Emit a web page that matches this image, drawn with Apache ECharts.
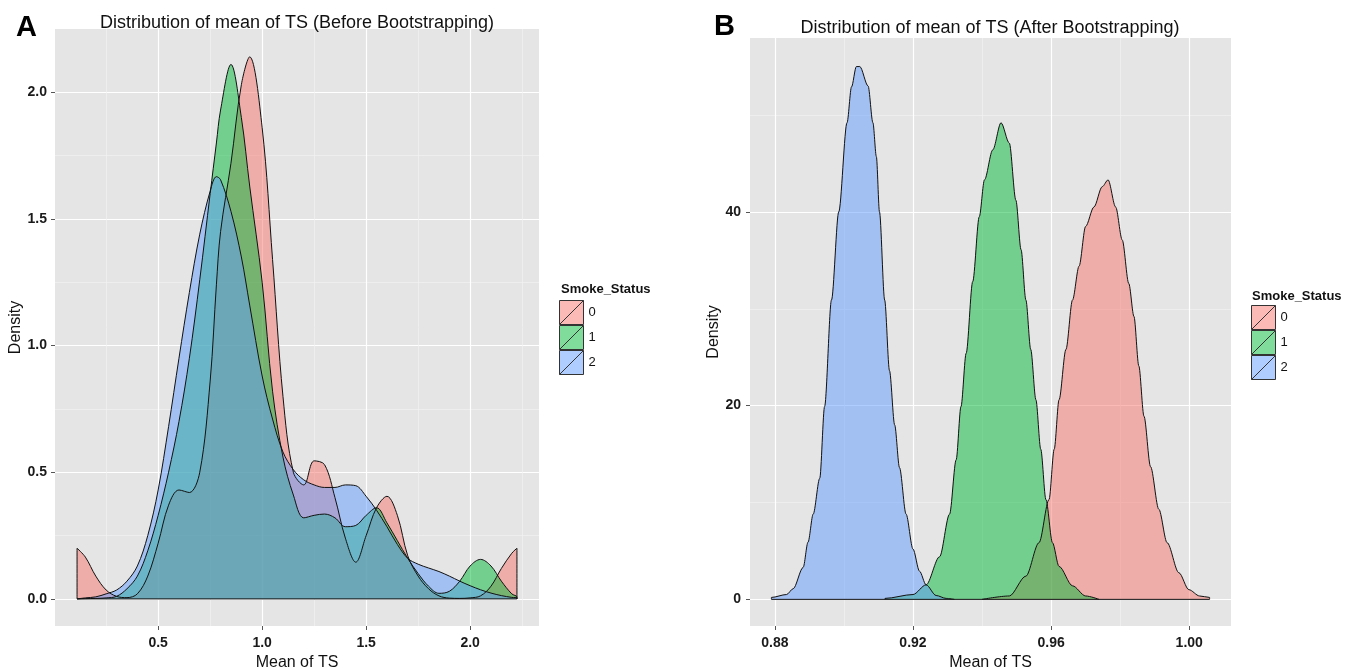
<!DOCTYPE html>
<html>
<head>
<meta charset="utf-8">
<script src="https://cdn.jsdelivr.net/npm/echarts@6/dist/echarts.min.js"></script>
<style>
  html, body { margin: 0; padding: 0; background: #fff; }
  #chart { width: 1356px; height: 670px; }
</style>
</head>
<body>
<div id="chart"></div>
<script>
// Smoke_Status groups
const groups = ['0', '1', '2']

// Panel A: density of mean TS before bootstrapping (shared x grid)
const aX = [0.11, 0.11, 0.15, 0.2, 0.25, 0.3, 0.35, 0.4, 0.45, 0.5, 0.55, 0.6, 0.65, 0.7, 0.75, 0.78, 0.8,
  0.85, 0.9, 0.94, 1.0, 1.05, 1.1, 1.15, 1.2, 1.25, 1.3, 1.35, 1.4, 1.45, 1.5, 1.55, 1.6, 1.65, 1.7, 1.75,
  1.8, 1.85, 1.9, 1.95, 2.0, 2.05, 2.1, 2.15, 2.2, 2.225, 2.225]
const aY0 = [0, 0.2, 0.165, 0.09, 0.035, 0.01, 0.005, 0.02, 0.09, 0.22, 0.37, 0.43, 0.42, 0.5, 0.86, 1.24, 1.45,
  1.72, 2.03, 2.14, 1.86, 1.34, 0.8, 0.5, 0.45, 0.545, 0.53, 0.4, 0.24, 0.145, 0.25, 0.36, 0.405, 0.33, 0.17, 0.09,
  0.04, 0.012, 0.003, 0.002, 0.004, 0.012, 0.05, 0.12, 0.18, 0.2, 0]
const aY1 = [0, 0.001, 0.001, 0.002, 0.004, 0.01, 0.04, 0.09, 0.19, 0.33, 0.5, 0.7, 0.95, 1.26, 1.6, 1.8, 1.93,
  2.11, 1.9, 1.63, 1.25, 0.82, 0.56, 0.41, 0.32, 0.33, 0.335, 0.32, 0.285, 0.29, 0.33, 0.36, 0.3, 0.23, 0.16, 0.1,
  0.05, 0.022, 0.03, 0.07, 0.13, 0.156, 0.13, 0.07, 0.02, 0.008, 0]
const aY2 = [0, 0.002, 0.004, 0.008, 0.02, 0.035, 0.07, 0.13, 0.25, 0.43, 0.68, 0.95, 1.21, 1.44, 1.61, 1.667, 1.655,
  1.53, 1.35, 1.16, 0.88, 0.71, 0.58, 0.51, 0.47, 0.45, 0.44, 0.44, 0.45, 0.447, 0.405, 0.35, 0.285, 0.215, 0.16, 0.137,
  0.122, 0.108, 0.09, 0.07, 0.052, 0.036, 0.023, 0.013, 0.006, 0.004, 0]

// Panel B: after bootstrapping, each group has its own x grid
const bX0 = [0.9400, 0.9400, 0.9479, 0.9527, 0.9565, 0.9594, 0.9609, 0.9623, 0.9643, 0.9662, 0.9681, 0.9700, 0.9724,
  0.9748, 0.9765, 0.9787, 0.9806, 0.9825, 0.9840, 0.9854, 0.9869, 0.9888, 0.9912, 0.9936, 0.9970, 0.9999, 1.0030,
  1.0059, 1.0059]
const bY0 = [0, 0.05, 0.35, 2.4, 5.85, 10.3, 15.5, 20.6, 25.8, 30.9, 34.4, 38.5, 40.5, 42.6, 43.3, 40.5, 37.1, 32.6,
  29.2, 24.1, 18.9, 13.7, 9.3, 5.85, 2.75, 1.0, 0.35, 0.2, 0]
const bX1 = [0.9119, 0.9119, 0.9200, 0.9238, 0.9277, 0.9306, 0.9325, 0.9339, 0.9354, 0.9373, 0.9392, 0.9407, 0.9431,
  0.9455, 0.9479, 0.9498, 0.9513, 0.9527, 0.9541, 0.9556, 0.9570, 0.9585, 0.9604, 0.9623, 0.9662, 0.9700, 0.9739]
const bY1 = [0, 0.1, 0.5, 1.5, 4.4, 8.8, 14.4, 19.9, 25.4, 32.8, 39.5, 43.3, 46.4, 49.2, 47.1, 41.2, 36.1, 30.9, 25.8,
  20.6, 15.5, 10.3, 5.85, 3.4, 1.4, 0.35, 0]
const bX2 = [0.8790, 0.8790, 0.8834, 0.8853, 0.8882, 0.8896, 0.8911, 0.8930, 0.8944, 0.8964, 0.8985, 0.9009, 0.9022,
  0.9036, 0.9046, 0.9070, 0.9084, 0.9094, 0.9103, 0.9118, 0.9132, 0.9147, 0.9161, 0.9180, 0.9200, 0.9219, 0.9238,
  0.9267, 0.9296, 0.9320]
const bY2 = [0, 0.2, 0.5, 1.1, 3.3, 5.9, 8.8, 12.5, 19.9, 30.9, 40.0, 49.2, 52.9, 55.0, 55.0, 53.0, 49.2, 45.7, 40.0,
  30.9, 23.6, 18.0, 13.6, 8.8, 5.2, 2.9, 1.5, 0.4, 0.1, 0]

// axis breaks
const aXTicks = [0.5, 1.0, 1.5, 2.0]
const aXMinor = [0.25, 0.75, 1.25, 1.75, 2.25]
const aYTicks = [0, 0.5, 1.0, 1.5, 2.0]
const aYMinor = [0.25, 0.75, 1.25, 1.75]
const bXTicks = [0.88, 0.92, 0.96, 1.00]
const bXMinor = [0.90, 0.94, 0.98]
const bYTicks = [0, 20, 40]
const bYMinor = [10, 30, 50]

const fills = ['rgba(248,118,109,0.5)', 'rgba(0,186,56,0.5)', 'rgba(97,156,255,0.5)']
const font = '"Liberation Sans", Arial, sans-serif'
const zip = (xs, ys) => xs.map((x, i) => [x, ys[i]])

function mainAxis(grid, min, max, ticks, digits, name, nameGap, margin) {
  return {
    type: 'value', gridIndex: grid, min: min, max: max,
    axisLine: { show: false, onZero: false },
    axisTick: { show: true, length: 4, customValues: ticks, lineStyle: { color: '#555' } },
    axisLabel: {
      customValues: ticks, margin: margin, formatter: v => v.toFixed(digits),
      fontSize: 14, fontWeight: 'bold', color: '#1a1a1a', fontFamily: font
    },
    splitLine: { show: true, lineStyle: { color: '#ffffff', width: 1.2 } },
    name: name, nameLocation: 'middle', nameGap: nameGap,
    nameTextStyle: { fontSize: 16, color: '#111', fontFamily: font }
  }
}

function minorAxis(grid, min, max, ticks) {
  return {
    type: 'value', gridIndex: grid, min: min, max: max,
    axisLine: { show: false, onZero: false },
    axisTick: { show: false, customValues: ticks },
    axisLabel: { show: false, customValues: ticks },
    splitLine: { show: true, lineStyle: { color: '#f2f2f2', width: 0.7 } }
  }
}

function density(name, idx, xAxis, yAxis, data, smooth, monotone) {
  return {
    type: 'line', name: name, xAxisIndex: xAxis, yAxisIndex: yAxis, data: data,
    symbol: 'none', smooth: smooth, smoothMonotone: monotone, silent: true,
    lineStyle: { color: '#111', width: 1 },
    itemStyle: { color: fills[idx] },
    areaStyle: { color: fills[idx], opacity: 1 }
  }
}

function baseline(xAxis, yAxis, x0, x1) {
  return {
    type: 'line', xAxisIndex: xAxis, yAxisIndex: yAxis, data: [[x0, 0], [x1, 0]],
    symbol: 'none', silent: true, z: 5, lineStyle: { color: '#111', width: 1 }
  }
}

function legend(left, top) {
  return {
    orient: 'vertical', left: left, top: top, padding: 0, itemGap: 0,
    itemWidth: 24, itemHeight: 24, selectedMode: false,
    icon: 'path://M0,0H24V24H0Z M0,24L24,0',
    data: groups.map((g, i) => ({
      name: g, itemStyle: { color: fills[i], borderColor: '#333', borderWidth: 1 }
    })),
    textStyle: { fontSize: 13, color: '#111', fontFamily: font }
  }
}

const chart = echarts.init(document.getElementById('chart'))

chart.setOption({
  animation: false,
  backgroundColor: '#ffffff',
  title: [
    { text: 'A', left: 16, top: 13, padding: 0, textStyle: { fontSize: 29, fontWeight: 'bold', color: '#000', fontFamily: font } },
    { text: 'Distribution of mean of TS (Before Bootstrapping)', left: 297, top: 14, padding: 0, textAlign: 'center',
      textStyle: { fontSize: 18, fontWeight: 'normal', color: '#111', fontFamily: font } },
    { text: 'B', left: 714, top: 12, padding: 0, textStyle: { fontSize: 29, fontWeight: 'bold', color: '#000', fontFamily: font } },
    { text: 'Distribution of mean of TS (After Bootstrapping)', left: 990, top: 19, padding: 0, textAlign: 'center',
      textStyle: { fontSize: 18, fontWeight: 'normal', color: '#111', fontFamily: font } },
    { text: 'Smoke_Status', left: 561, top: 283, padding: 0, textStyle: { fontSize: 13, fontWeight: 'bold', color: '#111', fontFamily: font } },
    { text: 'Smoke_Status', left: 1252, top: 290, padding: 0, textStyle: { fontSize: 13, fontWeight: 'bold', color: '#111', fontFamily: font } }
  ],
  legend: [legend(559, 300), legend(1251, 305)],
  grid: [
    { left: 55, top: 29, width: 484, height: 597, show: true, backgroundColor: '#e5e5e5', borderWidth: 0, outerBoundsMode: 'none' },
    { left: 750, top: 38, width: 481, height: 588, show: true, backgroundColor: '#e5e5e5', borderWidth: 0, outerBoundsMode: 'none' }
  ],
  xAxis: [
    mainAxis(0, 0.004, 2.331, aXTicks, 1, 'Mean of TS', 26, 10),
    minorAxis(0, 0.004, 2.331, aXMinor),
    mainAxis(1, 0.8728, 1.0121, bXTicks, 2, 'Mean of TS', 26, 10),
    minorAxis(1, 0.8728, 1.0121, bXMinor)
  ],
  yAxis: [
    mainAxis(0, -0.107, 2.25, aYTicks, 1, 'Density', 29, 8),
    minorAxis(0, -0.107, 2.25, aYMinor),
    mainAxis(1, -2.75, 57.95, bYTicks, 0, 'Density', 24, 9),
    minorAxis(1, -2.75, 57.95, bYMinor)
  ],
  series: [
    density('0', 0, 0, 0, zip(aX, aY0), 0.35, null),
    density('1', 1, 0, 0, zip(aX, aY1), 0.35, null),
    density('2', 2, 0, 0, zip(aX, aY2), 0.35, null),
    baseline(0, 0, aX[0], aX[aX.length - 1]),
    density('0', 0, 2, 2, zip(bX0, bY0), 0.3, 'x'),
    density('1', 1, 2, 2, zip(bX1, bY1), 0.3, 'x'),
    density('2', 2, 2, 2, zip(bX2, bY2), 0.3, 'x'),
    baseline(2, 2, bX2[0], bX0[bX0.length - 1])
  ]
})

window.addEventListener('resize', () => chart.resize())
</script>
</body>
</html>
